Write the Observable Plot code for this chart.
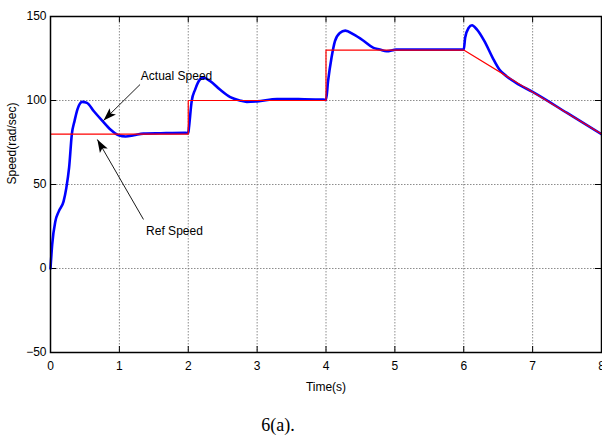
<!DOCTYPE html>
<html>
<head>
<meta charset="utf-8">
<script src="https://cdn.jsdelivr.net/npm/d3@7"></script>
<script src="https://cdn.jsdelivr.net/npm/@observablehq/plot@0.6"></script>
<style>
  html, body { margin: 0; padding: 0; background: #fff; }
  #wrap { position: relative; width: 602px; height: 435px; }
  #caption { position: absolute; left: 0; width: 556px; top: 415px; text-align: center;
             font-family: "Liberation Serif", "Times New Roman", serif; font-size: 18px; color: #000; }
</style>
</head>
<body>
<div id="wrap">
  <div id="chart"></div>
  <div id="caption">6(a).</div>
</div>
<script>
// Reference speed (rad/sec) vs time (s)
const refT = [0, 2, 2, 4, 4, 6, 8];
const refV = [80, 80, 100, 100, 130, 130, 80];

// Actual speed (rad/sec) vs time (s)
const actT = [0, 0.025, 0.07, 0.12, 0.19, 0.23, 0.27, 0.31, 0.35, 0.39, 0.46, 0.53, 0.63, 0.75, 0.87, 0.99,
  1.09, 1.21, 1.35, 1.6, 1.96, 2.0, 2.01, 2.05, 2.1, 2.17, 2.22, 2.32, 2.46, 2.61, 2.75, 2.85, 3.0, 3.29, 3.6,
  3.96, 4.0, 4.03, 4.08, 4.13, 4.2, 4.28, 4.4, 4.54, 4.69, 4.78, 4.88, 5.02, 5.5, 6.0, 6.02, 6.07, 6.12, 6.19,
  6.3, 6.42, 6.52, 6.62, 6.76, 7.0, 7.5, 8.0];
const actV = [0, 14.5, 28, 34, 40, 48, 60, 80, 88, 94.6, 99.2, 98.6, 93.6, 88, 82.7, 79.3,
  78.6, 79.3, 80.3, 80.5, 80.7, 80.5, 83.7, 99.6, 106.5, 112.5, 113.5, 111.5, 106.5, 102, 100, 99.2, 99.5, 100.9, 100.8,
  100.6, 100.3, 111.5, 125.4, 135.3, 140.2, 141.6, 139.3, 135.7, 131.3, 130.4, 129.3, 130.3, 130.3, 130.3, 137.3, 143.2, 144.8, 142.3,
  135.3, 125.4, 118.3, 114.5, 110.5, 105.1, 92.6, 80];

// Axis ticks
const xTicks = [0, 1, 2, 3, 4, 5, 6, 7, 8];
const yTicks = [-50, 0, 50, 100, 150];

// Annotations
const annLabels = ["Actual Speed", "Ref Speed"];
const annTextT = [1.83, 1.80];
const annTextV = [114.5, 22.2];
const annFromT = [1.30, 1.35];
const annFromV = [109.5, 29.2];
const annTipT = [0.77, 0.68];
const annTipV = [88.1, 76.8];

const refData = refT.map((t, i) => ({t, v: refV[i]}));
const actData = actT.map((t, i) => ({t, v: actV[i]}));

function filledArrow(color, context) {
  const doc = (context && context.document) || document;
  const ns = "http://www.w3.org/2000/svg";
  const m = doc.createElementNS(ns, "marker");
  m.setAttribute("viewBox", "-14 -5 15 10");
  m.setAttribute("markerWidth", 15);
  m.setAttribute("markerHeight", 10);
  m.setAttribute("markerUnits", "userSpaceOnUse");
  m.setAttribute("orient", "auto");
  m.setAttribute("refX", 0);
  m.setAttribute("refY", 0);
  const p = doc.createElementNS(ns, "path");
  p.setAttribute("d", "M0,0L-13,-4.5L-10,0L-13,4.5Z");
  p.setAttribute("fill", "black");
  p.setAttribute("stroke", "none");
  m.appendChild(p);
  return m;
}

const W = 602, H = 400, mL = 50, mR = 1, mT = 16, mB = 48;
const fw = W - mL - mR, fh = H - mT - mB;
const gridStyle = {stroke: "#707070", strokeOpacity: 1, strokeWidth: 0.8, strokeDasharray: "1.5,1.5"};

const plot = Plot.plot({
  width: W, height: H,
  marginLeft: mL, marginRight: mR, marginTop: mT, marginBottom: mB,
  style: {fontFamily: "'Liberation Sans', Arial, sans-serif", fontSize: "12px", background: "white", color: "black"},
  x: {domain: [0, 8]},
  y: {domain: [-50, 150]},
  marks: [
    Plot.gridX(xTicks, gridStyle),
    Plot.gridY(yTicks, gridStyle),
    Plot.axisX({ticks: xTicks, tickSize: 0, tickPadding: 9, label: null, fontSize: 12}),
    Plot.axisY({ticks: yTicks, tickSize: 0, tickPadding: 4, label: null, fontSize: 12}),
    Plot.tickX(xTicks, {x: d => d, insetTop: fh - 6, stroke: "black"}),
    Plot.tickX(xTicks, {x: d => d, insetBottom: fh - 6, stroke: "black"}),
    Plot.tickY(yTicks, {y: d => d, insetRight: fw - 6, stroke: "black"}),
    Plot.tickY(yTicks, {y: d => d, insetLeft: fw - 6, stroke: "black"}),
    Plot.line(actData, {x: "t", y: "v", stroke: "#0000ff", strokeWidth: 2.6, curve: "monotone-x"}),
    Plot.line(refData, {x: "t", y: "v", stroke: "#ff0000", strokeWidth: 1.2}),
    Plot.link(annLabels, {x1: annFromT, y1: annFromV, x2: annTipT, y2: annTipV, stroke: "black", strokeWidth: 0.9, markerEnd: filledArrow}),
    Plot.text(annLabels, {x: annTextT, y: annTextV, text: annLabels, fontSize: 12, fill: "black"}),
    Plot.text(["Time(s)"], {frameAnchor: "bottom", dy: 38, text: d => d, fontSize: 12, fill: "black"}),
    Plot.text(["Speed(rad/sec)"], {frameAnchor: "left", dx: -38, rotate: -90, text: d => d, fontSize: 12, fill: "black"}),
    Plot.frame({stroke: "black", strokeWidth: 1.5})
  ]
});
document.getElementById("chart").appendChild(plot);
</script>
</body>
</html>
